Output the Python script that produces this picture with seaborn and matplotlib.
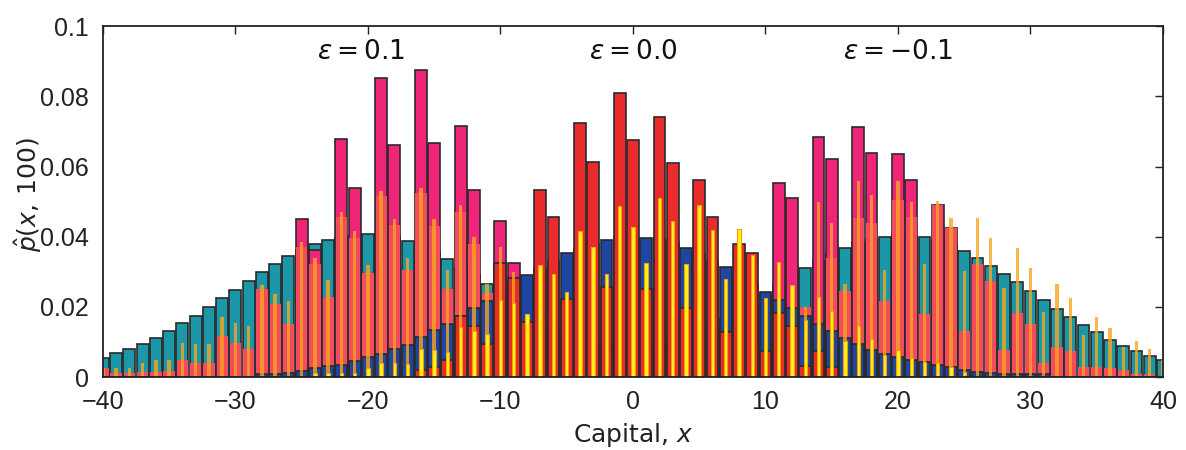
import matplotlib
matplotlib.use("Agg")
import matplotlib.pyplot as plt
import pandas as pd
import seaborn as sns

capital = list(range(-40, 41))

teal_wide = [
    0.0054, 0.0068, 0.0080, 0.0095, 0.0111, 0.0131, 0.0153, 0.0174, 0.0199, 0.0224,
    0.0249, 0.0275, 0.0300, 0.0322, 0.0344, 0.0362, 0.0380, 0.0392, 0.0400, 0.0405,
    0.0409, 0.0405, 0.0398, 0.0388, 0.0372, 0.0355, 0.0336, 0.0312, 0.0290, 0.0266,
    0.0240, 0.0215, 0.0190, 0.0165, 0.0145, 0.0128, 0.0112, 0.0098, 0.0088, 0.0080,
    0.0075, 0.0080, 0.0088, 0.0098, 0.0112, 0.0128, 0.0145, 0.0165, 0.0190, 0.0212,
    0.0236, 0.0262, 0.0287, 0.0311, 0.0332, 0.0352, 0.0369, 0.0384, 0.0394, 0.0400,
    0.0404, 0.0402, 0.0399, 0.0390, 0.0378, 0.0359, 0.0338, 0.0316, 0.0293, 0.0270,
    0.0245, 0.0219, 0.0195, 0.0171, 0.0149, 0.0128, 0.0107, 0.0089, 0.0074, 0.0060, 0.0050,
]

pink_spiky = [
    0, 0, 0, 0, 0, 0, 0, 0, 0, 0,
    0, 0, 0, 0, 0, 0.0450, 0.0362, 0, 0.0679, 0.0538,
    0, 0.0853, 0.0662, 0, 0.0875, 0.0668, 0, 0.0715, 0.0533, 0,
    0.0444, 0.0325, 0, 0, 0, 0, 0, 0, 0, 0,
    0, 0, 0, 0, 0, 0, 0, 0, 0, 0,
    0, 0.0553, 0.0510, 0, 0.0683, 0.0622, 0, 0.0713, 0.0639, 0,
    0.0635, 0.0561, 0, 0.0489, 0.0425, 0, 0, 0, 0, 0,
    0, 0, 0, 0, 0, 0, 0, 0, 0, 0, 0,
]

salmon_inner = [
    0.0025, 0.0012, 0.0012, 0.0015, 0.0015, 0.0016, 0.0050, 0.0041, 0.0041, 0.0117,
    0.0098, 0.0080, 0.0250, 0.0208, 0.0151, 0.0370, 0.0322, 0.0228, 0.0456, 0.0396,
    0.0296, 0.0515, 0.0434, 0.0306, 0.0524, 0.0431, 0.0250, 0.0470, 0.0380, 0.0240,
    0.0300, 0.0260, 0, 0, 0, 0, 0, 0, 0, 0,
    0, 0, 0, 0, 0, 0, 0, 0, 0, 0,
    0, 0, 0, 0.0199, 0, 0.0340, 0.0245, 0.0452, 0.0440, 0.0218,
    0.0505, 0.0456, 0.0181, 0.0489, 0.0425, 0.0130, 0.0321, 0.0273, 0.0076, 0.0184,
    0.0152, 0.0040, 0.0087, 0.0073, 0.0030, 0.0030, 0.0025, 0.0020, 0.0010, 0.0010, 0,
]

blue_wide = [
    0, 0, 0, 0, 0, 0, 0, 0, 0, 0,
    0, 0, 0.0008, 0.0010, 0.0013, 0.0018, 0.0027, 0.0032, 0.0035, 0.0045,
    0.0058, 0.0066, 0.0080, 0.0092, 0.0114, 0.0134, 0.0152, 0.0175, 0.0197, 0.0217,
    0.0240, 0.0262, 0.0291, 0.0310, 0.0330, 0.0353, 0.0365, 0.0378, 0.0390, 0.0395,
    0.0397, 0.0397, 0.0393, 0.0385, 0.0367, 0.0350, 0.0330, 0.0313, 0.0290, 0.0265,
    0.0243, 0.0219, 0.0196, 0.0174, 0.0150, 0.0131, 0.0110, 0.0094, 0.0076, 0.0067,
    0.0058, 0.0050, 0.0042, 0.0035, 0.0028, 0.0020, 0.0015, 0.0012, 0.0010, 0.0010,
    0.0008, 0.0008, 0, 0, 0, 0, 0, 0, 0, 0, 0,
]

red_spiky = [
    0, 0, 0, 0, 0, 0, 0, 0, 0, 0,
    0, 0, 0, 0, 0, 0, 0, 0, 0, 0,
    0, 0, 0, 0, 0.0020, 0.0030, 0.0048, 0.0174, 0.0145, 0.0094,
    0.0325, 0.0283, 0.0156, 0.0533, 0.0457, 0.0223, 0.0723, 0.0612, 0.0257, 0.0809,
    0.0675, 0.0251, 0.0741, 0.0610, 0.0198, 0.0562, 0.0455, 0.0129, 0.0378, 0.0353,
    0.0073, 0.0182, 0.0145, 0.0032, 0.0075, 0.0030, 0, 0, 0, 0,
    0, 0, 0, 0, 0, 0, 0, 0, 0, 0,
    0, 0, 0, 0, 0, 0, 0, 0, 0, 0, 0,
]

orange_thin = [
    0.0025, 0.0025, 0.0025, 0.0040, 0.0048, 0.0049, 0.0097, 0.0093, 0.0093, 0.0170,
    0.0155, 0.0146, 0.0261, 0.0237, 0.0218, 0.0385, 0.0340, 0.0276, 0.0470, 0.0415,
    0.0320, 0.0530, 0.0450, 0.0340, 0.0540, 0.0450, 0.0305, 0.0490, 0.0400, 0.0265,
    0.0370, 0.0300, 0, 0, 0, 0, 0, 0, 0, 0,
    0, 0, 0, 0, 0, 0, 0, 0, 0, 0,
    0, 0, 0, 0.0200, 0.0500, 0.0440, 0.0265, 0.0560, 0.0520, 0.0306,
    0.0560, 0.0500, 0.0323, 0.0503, 0.0452, 0.0301, 0.0452, 0.0396, 0.0254, 0.0368,
    0.0312, 0.0185, 0.0266, 0.0224, 0.0120, 0.0170, 0.0140, 0.0085, 0.0103, 0.0079, 0.0050,
]

yellow_thin = [
    0, 0, 0, 0, 0, 0, 0, 0, 0, 0,
    0, 0, 0, 0, 0, 0, 0.0012, 0.0012, 0.0013, 0.0013,
    0.0025, 0.0040, 0.0040, 0.0038, 0.0080, 0.0076, 0.0072, 0.0142, 0.0130, 0.0122,
    0.0221, 0.0210, 0.0180, 0.0320, 0.0294, 0.0243, 0.0415, 0.0371, 0.0295, 0.0488,
    0.0427, 0.0325, 0.0510, 0.0445, 0.0322, 0.0491, 0.0418, 0.0280, 0.0422, 0.0348,
    0.0225, 0.0329, 0.0263, 0.0164, 0.0228, 0.0188, 0.0104, 0.0145, 0.0108, 0.0063,
    0.0076, 0.0053, 0.0044, 0.0040, 0.0030, 0.0015, 0, 0, 0, 0,
    0, 0, 0, 0, 0, 0, 0, 0, 0, 0, 0,
]

xticks = [-40, -30, -20, -10, 0, 10, 20, 30, 40]
xtick_labels = ["\u221240", "\u221230", "\u221220", "\u221210", "0", "10", "20", "30", "40"]
yticks = [0, 0.02, 0.04, 0.06, 0.08, 0.1]
ytick_labels = ["0", "0.02", "0.04", "0.06", "0.08", "0.1"]
eps_labels = [r"$\epsilon = 0.1$", r"$\epsilon = 0.0$", r"$\epsilon = -0.1$"]
eps_pos = [-20.5, 0.0, 20.0]

sns.set_theme(style="white")
plt.rcParams["font.family"] = ["Liberation Sans", "DejaVu Sans"]
plt.rcParams["mathtext.fontset"] = "dejavusans"

fig = plt.figure(figsize=(11.86, 4.5), dpi=100)
ax = fig.add_axes([0.0868, 0.162, 0.8938, 0.78])

dark = "#2a2a2a"
layers = [
    (teal_wide, "#1b97a8", 0.9, dark, 1.2, 1.0),
    (pink_spiky, "#f0257a", 0.9, dark, 1.2, 1.0),
    (salmon_inner, "#f44c5c", 0.86, "none", 0.0, 1.0),
    (blue_wide, "#1f45a2", 0.9, dark, 1.2, 1.0),
    (red_spiky, "#ea2b2b", 0.9, dark, 1.2, 1.0),
    (orange_thin, "#f9a51e", 0.26, "none", 0.0, 0.8),
    (yellow_thin, "#fff01e", 0.26, "#f0a000", 0.8, 1.0),
]

for vals, color, w, ec, lw, alpha in layers:
    df = pd.DataFrame({"capital": capital, "p": vals})
    sns.barplot(data=df, x="capital", y="p", native_scale=True, width=w,
                color=color, edgecolor=ec, linewidth=lw, saturation=1,
                errorbar=None, alpha=alpha, ax=ax)

ax.set_xlim(-40, 40)
ax.set_ylim(0, 0.1)
ax.set_xticks(xticks)
ax.set_xticklabels(xtick_labels)
ax.set_yticks(yticks)
ax.set_yticklabels(ytick_labels)
ax.tick_params(direction="in", length=6, width=1, top=True, right=True,
               labelsize=18, colors="#222222")
ax.tick_params(axis="x", pad=9)
ax.tick_params(axis="y", pad=10)
for sp in ax.spines.values():
    sp.set_visible(True)
    sp.set_color("#222222")
    sp.set_linewidth(1.3)

ax.set_xlabel("Capital, $x$", fontsize=18, family="DejaVu Sans", color="#222222")
ax.xaxis.set_label_coords(0.5, -0.125)
ax.set_ylabel(r"$\hat{p}(x,\,100)$", fontsize=18, color="#222222")
ax.yaxis.set_label_coords(-0.056, 0.52)

for lab, xp in zip(eps_labels, eps_pos):
    ax.text(xp, 0.0925, lab, fontsize=19, ha="center", va="center", color="#111111")

fig.savefig("out.png", dpi=100)
